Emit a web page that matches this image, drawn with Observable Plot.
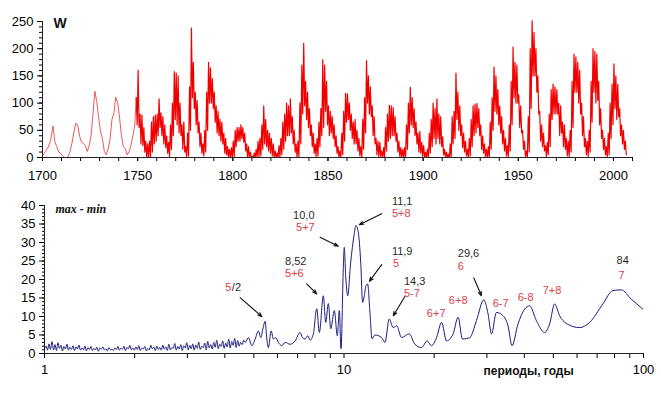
<!DOCTYPE html>
<html><head><meta charset="utf-8">
<script src="https://cdn.jsdelivr.net/npm/d3@7"></script>
<script src="https://cdn.jsdelivr.net/npm/@observablehq/plot@0.6"></script>
<style>
body{margin:0;background:#fff}
#wrap{width:661px;height:395px;overflow:hidden;background:#fff}
#wrap svg{display:block}
</style>
</head><body><div id="wrap"></div>
<script>
// ---------- Top panel: Wolf number ----------
const earlyYears = d3.range(1700, 1749);
const earlyW = [5,11,16,23,36,58,29,20,10,8, 3,0,0,2,11,27,47,63,60,39,
  28,26,22,11,21,40,78,122,103,73, 47,35,11,5,16,34,70,81,111,101,
  73,40,20,16,5,11,22,40,60];
const monthlyYears = d3.range(1749, 2007);
// monthly maximum and minimum within each year
const yearHigh = [110,
  160,80,78,55,30,25,30,65,75,78,
  80,108,82,75,60,40,28,60,100,158,
  155,150,100,60,65,20,45,130,238,175,
  120,105,65,45,25,50,120,175,165,145,
  120,95,85,70,65,45,35,20,15,18,
  30,50,55,55,60,55,45,25,20,10,
  2,8,15,30,35,60,95,70,50,45,
  35,25,12,8,22,35,65,80,100,95,
  108,75,50,25,30,100,170,210,140,120,
  90,60,45,25,35,65,90,180,170,140,
  95,85,75,60,40,20,12,45,85,118,
  117,100,80,65,70,50,35,20,70,110,
  178,150,130,95,75,35,30,28,12,18,
  55,80,96,95,92,75,45,30,18,15,
  18,60,100,129,110,90,65,45,48,28,
  22,10,15,45,70,100,90,108,80,75,
  38,15,10,6,25,75,85,155,120,95,
  60,45,30,15,35,70,95,98,99,90,
  60,40,25,15,20,65,110,166,150,125,
  95,75,50,35,22,60,140,203,175,170,
  115,95,50,30,12,75,200,251,230,200,
  150,85,60,45,22,28,80,125,135,130,
  125,100,95,65,60,35,30,50,140,190,
  185,175,160,100,75,35,30,50,140,200,
  195,190,140,90,50,35,20,45,100,135,
  172,150,135,90,60,50,30];
const yearLow = [60,
  55,25,22,10,0,0,2,10,25,30,
  40,55,40,25,18,8,2,15,40,70,
  60,45,40,15,10,0,3,50,110,90,
  60,45,20,8,3,10,50,100,100,90,
  65,45,40,30,25,8,5,0,0,0,
  2,20,30,30,35,28,12,0,0,0,
  0,0,0,2,3,15,25,20,12,8,
  3,0,0,0,0,5,15,30,40,40,
  45,25,10,0,2,25,80,95,70,55,
  40,20,8,2,3,20,40,55,85,60,
  40,45,35,20,8,0,0,5,30,65,
  70,50,35,25,25,12,3,0,15,45,
  100,80,75,40,25,5,2,2,0,0,
  12,30,35,40,40,30,10,2,0,0,
  0,15,45,60,55,40,25,10,8,2,
  0,0,0,8,20,35,25,35,25,20,
  5,0,0,0,0,25,35,70,50,40,
  18,10,3,0,3,20,40,45,55,40,
  15,8,2,0,0,15,50,85,80,60,
  45,25,12,3,0,12,60,110,100,100,
  55,45,15,2,0,10,90,150,150,120,
  80,30,20,12,2,5,20,70,80,80,
  80,40,45,20,15,3,2,10,55,120,
  120,100,80,40,20,5,2,10,65,120,
  100,105,60,35,15,5,0,5,35,60,
  90,70,75,40,25,15,5];
const yearTicks = d3.range(1700, 2011, 10);
const yearLabels = d3.range(1700, 2001, 50);
const wTicks = d3.range(0, 251, 10);
const wLabels = d3.range(0, 251, 50);

// ---------- Bottom panel: spectrum ----------
const specPeriod = [
  1.000,1.012,1.023,1.035,1.047,1.059,1.072,1.084,1.096,1.109,
  1.122,1.135,1.148,1.161,1.175,1.189,1.202,1.216,1.230,1.245,
  1.259,1.274,1.288,1.303,1.318,1.334,1.349,1.365,1.380,1.396,
  1.413,1.429,1.445,1.462,1.479,1.496,1.514,1.531,1.549,1.567,
  1.585,1.603,1.622,1.641,1.660,1.679,1.698,1.718,1.738,1.758,
  1.778,1.799,1.820,1.841,1.862,1.884,1.905,1.928,1.950,1.972,
  1.995,2.018,2.042,2.065,2.089,2.113,2.138,2.163,2.188,2.213,
  2.239,2.265,2.291,2.317,2.344,2.371,2.399,2.427,2.455,2.483,
  2.512,2.541,2.570,2.600,2.630,2.661,2.692,2.723,2.754,2.786,
  2.818,2.851,2.884,2.917,2.951,2.985,3.020,3.055,3.090,3.126,
  3.162,3.199,3.236,3.273,3.311,3.350,3.388,3.428,3.467,3.508,
  3.548,3.589,3.631,3.673,3.715,3.758,3.802,3.846,3.890,3.936,
  3.981,4.027,4.074,4.121,4.169,4.217,4.266,4.315,4.365,4.416,
  4.467,4.519,4.571,4.624,
  4.677,4.797,4.924,5.050,5.180,5.277,5.358,5.454,5.525,5.593,
  5.711,5.812,5.920,6.039,6.198,6.357,6.607,6.866,7.135,7.261,
  7.413,7.568,7.703,7.901,8.110,8.274,8.531,8.690,8.865,9.030,
  9.283,9.499,9.646,9.772,9.947,10.02,10.13,10.29,10.53,10.80,
  10.96,11.16,11.37,11.54,11.69,11.84,11.99,12.21,12.40,12.69,
  13.36,13.70,14.16,14.60,14.99,15.57,16.51,17.25,18.16,18.95,
  19.60,20.37,21.17,22.00,23.14,24.04,24.87,26.30,27.69,29.29,
  30.27,31.08,32.28,33.96,35.29,36.39,38.11,40.12,41.69,43.88,
  46.77,48.60,50.50,52.48,55.25,61.21,66.07,73.16,79.01,84.28,
  90.99,99.47];
const specValue = [
  1.3,2.0,0.9,2.6,1.1,3.2,1.0,2.4,0.8,2.9,1.4,2.2,0.7,1.9,1.2,2.5,0.9,1.7,1.1,2.1,
  0.8,1.8,1.2,2.3,0.9,1.5,1.0,2.0,0.7,1.6,1.1,1.9,0.8,1.4,1.0,1.7,0.6,1.5,1.2,1.8,
  0.9,1.3,0.7,1.6,1.0,1.2,0.8,1.5,1.1,1.9,0.9,1.4,1.2,2.0,0.8,1.6,1.3,2.2,1.0,1.5,
  0.9,1.8,1.1,2.1,0.8,1.5,1.2,1.9,0.7,1.4,1.0,2.2,1.3,1.7,0.8,2.0,1.1,1.6,0.9,2.3,
  1.2,1.8,0.8,2.5,1.0,1.6,1.4,2.7,0.9,1.9,1.2,2.4,0.8,2.1,1.5,2.9,1.0,2.2,1.3,2.6,
  0.9,2.3,1.4,3.1,1.1,2.0,1.6,2.8,1.0,3.3,1.5,2.4,1.2,3.0,1.7,3.6,1.3,2.5,1.9,3.4,
  1.4,2.8,1.8,3.9,1.5,3.2,2.2,4.1,1.6,3.5,2.0,3.0,2.4,3.6,
  3.0,4.3,2.1,3.9,6.1,4.3,6.6,8.7,3.9,1.6,
  6.1,3.9,4.3,3.0,2.1,3.0,2.5,3.4,5.7,4.3,
  3.9,4.8,3.6,5.3,12.1,5.7,15.6,8.4,13.5,6.7,
  11.6,4.8,11.6,1.3,23,28.7,21,15.6,24.7,31.9,
  34.6,32.8,24.7,13.8,15.6,18.3,18.8,11,4,5.0,
  4.3,3.0,9.3,7.0,7.5,4.3,5.3,2.5,1.6,3.4,
  2.1,4.3,8.4,3.4,5.3,9.8,3.9,4.3,8.9,14.5,
  10.7,5.3,11.1,10.2,7.5,2.1,8.0,12.0,12.9,8.9,
  5.7,8.0,13.4,10.2,8.1,7.0,8.4,13.4,17.0,17.2,
  14.7,12.0];
const periodTicks = [1,2,3,4,5,6,7,8,9,10,20,30,40,50,60,70,80,90,100];
const periodLabels = [1, 10, 100];
const ampTicks = d3.range(0, 41, 1);
const ampLabels = d3.range(0, 41, 5);

// annotations (period, amplitude)
const blackText = ["/2","8,52","10,0","11,1","11,9","14,3","29,6","84"];
const blackX = [4.222, 6.357, 6.761, 14.45, 14.45, 15.85, 23.99, 81.28];
const blackY = [17.8, 24.85, 37.3, 41.1, 27.6, 19.5, 27.1, 25.1];
const redText = ["5","5+6","5+7","5+8","5","5-7","6+7","6+8","6","6-7","6-8","7+8","7"];
const redX = [4.013, 6.357, 6.918, 14.45, 14.57, 15.85, 18.91, 22.39, 23.99, 31.38, 38.02, 46.06, 82.54];
const redY = [17.8, 21.6, 34.1, 37.9, 24.2, 16.1, 10.7, 14.3, 23.5, 13.55, 15.2, 17.0, 21.2];
const arrowX1 = [4.50, 7.51, 8.32, 13.36, 13.36, 15.97, 27.13];
const arrowY1 = [15.1, 18.8, 31.4, 37.8, 24.0, 15.4, 20.4];
const arrowX2 = [5.32, 8.11, 9.57, 11.25, 12.15, 14.60, 28.77];
const arrowY2 = [9.95, 16.1, 29.0, 34.8, 19.5, 10.2, 15.6];

// ---------- build tables ----------
const early = earlyYears.map((y, i) => ({t: y + 0.5, w: earlyW[i]}));
const monthly = [];
monthlyYears.forEach((y, i) => {
  monthly.push({t: y + 0.25, w: yearHigh[i]});
  monthly.push({t: y + 0.75, w: yearLow[i]});
});
const spec = specPeriod.map((p, i) => ({p, v: specValue[i]}));
const blackLab = blackText.map((s, i) => ({s, x: blackX[i], y: blackY[i]}));
const redLab = redText.map((s, i) => ({s, x: redX[i], y: redY[i]}));
const arrows = arrowX1.map((x, i) => ({x1: x, y1: arrowY1[i], x2: arrowX2[i], y2: arrowY2[i]}));

const font = "'Liberation Sans', Arial, sans-serif";

const topPlot = Plot.plot({
  width: 661, height: 190,
  marginLeft: 42, marginRight: 29, marginTop: 21, marginBottom: 33,
  style: {fontFamily: font, fontSize: "13px", background: "white", color: "black"},
  x: {domain: [1700, 2010]},
  y: {domain: [0, 250]},
  marks: [
    Plot.axisY({ticks: wLabels, tickSize: 5, tickPadding: 4, tickFormat: d => String(d), label: null, fontSize: 13}),
    Plot.axisY({ticks: wTicks, tickSize: 3, tickFormat: () => "", label: null}),
    Plot.axisX({ticks: yearLabels, tickSize: 4, tickPadding: 9, tickFormat: d => String(d), label: null, fontSize: 13}),
    Plot.axisX({ticks: yearTicks, tickSize: 4, tickFormat: () => "", label: null}),
    Plot.line(early.concat([monthly[0]]), {x: "t", y: "w", stroke: "#e84848", strokeWidth: 0.9}),
    Plot.line(monthly, {x: "t", y: "w", stroke: "#f20000", strokeWidth: 1.2}),
    Plot.ruleY([0], {stroke: "#222"}),
    Plot.ruleX([1700], {stroke: "#222"}),
    Plot.text(["W"], {text: d => d, frameAnchor: "top-left", textAnchor: "start", lineAnchor: "middle",
      dx: 11, dy: 2, fontWeight: "bold", fontSize: 14, fill: "#111"})
  ]
});

const botPlot = Plot.plot({
  width: 661, height: 205,
  marginLeft: 44, marginRight: 18, marginTop: 15, marginBottom: 42,
  style: {fontFamily: font, fontSize: "13px", background: "white", color: "black", overflow: "visible"},
  x: {type: "log", domain: [1, 100]},
  y: {domain: [0, 40]},
  marks: [
    Plot.axisY({ticks: ampLabels, tickSize: 5, tickPadding: 4, tickFormat: d => String(d), label: null, fontSize: 13}),
    Plot.axisY({ticks: ampTicks, tickSize: 2, tickFormat: () => "", label: null}),
    Plot.axisX({ticks: periodTicks, tickSize: 5, tickPadding: 6,
      tickFormat: d => periodLabels.includes(d) ? String(d) : "", label: null, fontSize: 13}),
    Plot.line(spec, {x: "p", y: "v", stroke: "#1c1c80", strokeWidth: 1, curve: "monotone-x"}),
    Plot.ruleY([0], {stroke: "#222"}),
    Plot.ruleX([1], {stroke: "#222"}),
    Plot.arrow(arrows, {x1: "x1", y1: "y1", x2: "x2", y2: "y2", stroke: "#111", strokeWidth: 1.1,
      headLength: 6, headAngle: 40}),
    Plot.text(blackLab, {x: "x", y: "y", text: "s", textAnchor: "start", fill: "#2a2a2a", fontSize: 11}),
    Plot.text(redLab, {x: "x", y: "y", text: "s", textAnchor: "start", fill: "#e0404a", fontSize: 11}),
    Plot.text(["max - min"], {text: d => d, frameAnchor: "top-left", textAnchor: "start", lineAnchor: "middle",
      dx: 11, dy: 4, fontWeight: "bold", fontStyle: "italic", fontSize: 12,
      fontFamily: "'Liberation Serif', 'Times New Roman', serif", fill: "#111"}),
    Plot.text(["периоды, годы"], {text: d => d, frameAnchor: "bottom-left", textAnchor: "start", lineAnchor: "middle",
      dx: 439, dy: 17.5, fontWeight: "bold", fontSize: 12, fill: "#111"})
  ]
});

const wrap = document.getElementById("wrap");
wrap.appendChild(topPlot);
wrap.appendChild(botPlot);
</script>
</body></html>
